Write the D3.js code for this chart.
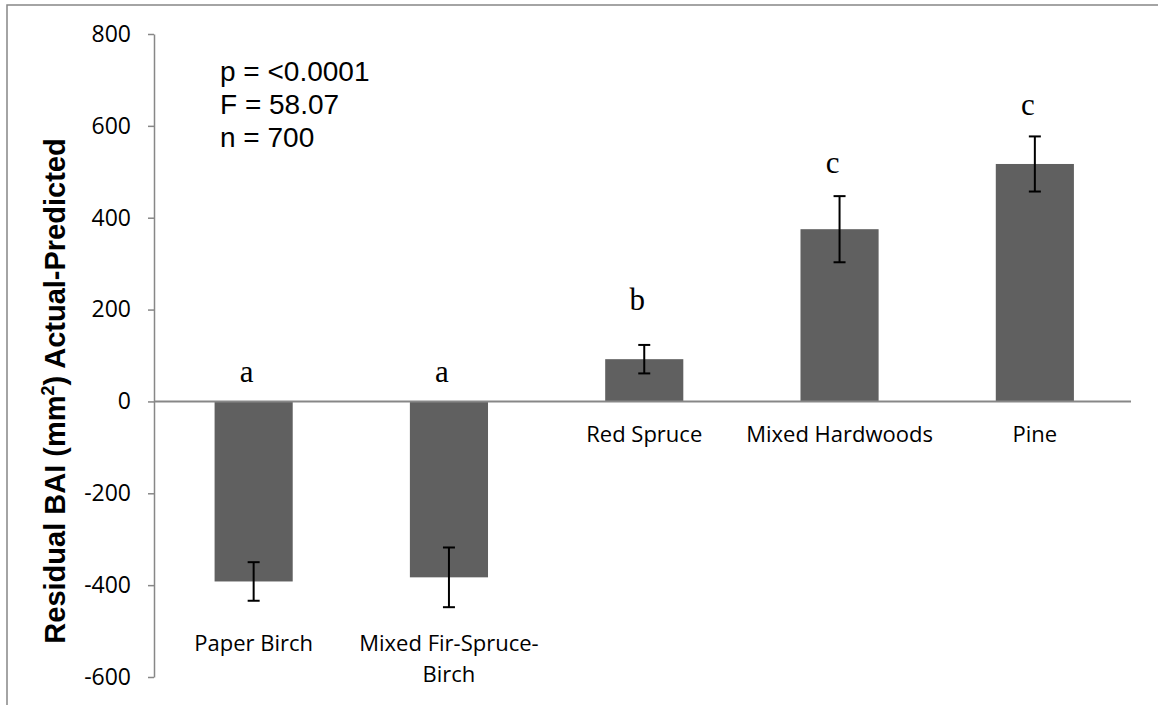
<!DOCTYPE html>
<html>
<head>
<meta charset="utf-8">
<script src="https://cdn.jsdelivr.net/npm/d3@7"></script>
<style>
  html, body { margin: 0; padding: 0; background: #fff; }
  svg { display: block; }
</style>
</head>
<body>
<script>
// ---- data ----
const categories = ["Paper Birch", "Mixed Fir-Spruce-Birch", "Red Spruce", "Mixed Hardwoods", "Pine"];
const values = [-392, -383, 92, 375, 517];
const errors = [42, 65, 31, 72, 60];
const groupLetters = ["a", "a", "b", "c", "c"];
const letterLevels = [43, 43, 200, 498, 624];
const yTicks = [-600, -400, -200, 0, 200, 400, 600, 800];
const statLines = ["p = <0.0001", "F = 58.07", "n = 700"];

// ---- layout ----
const W = 1158, H = 705;
const svg = d3.select("body").append("svg").attr("width", W).attr("height", H);

const x = d3.scaleBand().domain(categories).range([156, 1132.5]).paddingInner(0.6).paddingOuter(0.3);
const y = d3.scaleLinear().domain([-600, 800]).range([677, 34]);
const axisX = 154;
const axisColor = "#878787";
const labelFont = "'Open Sans', sans-serif";

// outer frame (top and left borders)
svg.append("path")
  .attr("d", `M7,${H} L7,5 L${W},5`)
  .attr("fill", "none").attr("stroke", axisColor).attr("stroke-width", 1.5);

// y axis
const yAxis = svg.append("g")
  .attr("transform", `translate(${axisX},0)`)
  .call(d3.axisLeft(y).tickValues(yTicks).tickSize(6).tickSizeOuter(0).tickPadding(17).tickFormat(d3.format("d")));
yAxis.select(".domain").attr("stroke", axisColor).attr("stroke-width", 1.5);
yAxis.selectAll(".tick line").attr("stroke", axisColor).attr("stroke-width", 1.5);
yAxis.selectAll(".tick text")
  .attr("font-family", labelFont).attr("font-size", 23).attr("fill", "#000")
  .text(d => d < 0 ? "-" + Math.abs(d) : d);

// bars
svg.append("g").selectAll("rect").data(categories).join("rect")
  .attr("x", d => x(d))
  .attr("width", x.bandwidth())
  .attr("y", (d, i) => y(Math.max(0, values[i])))
  .attr("height", (d, i) => Math.abs(y(values[i]) - y(0)))
  .attr("fill", "#606060");

// zero line (category axis)
svg.append("line")
  .attr("x1", axisX).attr("x2", 1131)
  .attr("y1", y(0)).attr("y2", y(0))
  .attr("stroke", axisColor).attr("stroke-width", 2);

// error bars
const eb = svg.append("g").attr("stroke", "#000").attr("stroke-width", 2);
categories.forEach((c, i) => {
  const cx = x(c) + x.bandwidth() / 2;
  const lo = y(values[i] - errors[i]), hi = y(values[i] + errors[i]);
  eb.append("line").attr("x1", cx).attr("x2", cx).attr("y1", lo).attr("y2", hi);
  eb.append("line").attr("x1", cx - 6).attr("x2", cx + 6).attr("y1", lo).attr("y2", lo);
  eb.append("line").attr("x1", cx - 6).attr("x2", cx + 6).attr("y1", hi).attr("y2", hi);
});

// category labels (wrap at hyphen when wider than the band step)
const labels = svg.append("g").attr("font-family", labelFont).attr("font-size", 22).attr("fill", "#000").attr("text-anchor", "middle");
categories.forEach((c, i) => {
  const cx = x(c) + x.bandwidth() / 2;
  const baseY = values[i] < 0 ? y(-600) - 26 : y(0) + 41;
  const t = labels.append("text").attr("x", cx).attr("y", baseY).text(c);
  if (t.node().getComputedTextLength() > x.step() - 10 && c.lastIndexOf("-") > 0) {
    const k = c.lastIndexOf("-") + 1;
    t.text(null);
    t.append("tspan").attr("x", cx).attr("y", baseY).text(c.slice(0, k));
    t.append("tspan").attr("x", cx).attr("y", baseY + 31).text(c.slice(k));
  }
});

// significance letters
svg.append("g").attr("font-family", "'Liberation Serif', 'Times New Roman', serif").attr("font-size", 31)
  .attr("text-anchor", "middle").attr("fill", "#000")
  .selectAll("text").data(categories).join("text")
  .attr("x", d => x(d) + x.bandwidth() / 2 - 7)
  .attr("y", (d, i) => y(letterLevels[i]))
  .text((d, i) => groupLetters[i]);

// statistics text
svg.append("g").attr("font-family", "'Liberation Sans', Arial, sans-serif").attr("font-size", 28).attr("fill", "#000")
  .selectAll("text").data(statLines).join("text")
  .attr("x", 220).attr("y", (d, i) => 81 + i * 33)
  .text(d => d);

// y axis title
const title = svg.append("text")
  .attr("transform", "translate(65,391) rotate(-90)")
  .attr("text-anchor", "middle")
  .attr("font-family", "'Liberation Sans', Arial, sans-serif")
  .attr("font-weight", "bold").attr("font-size", 29).attr("fill", "#000");
title.append("tspan").text("Residual BAI (mm");
title.append("tspan").attr("font-size", 18).attr("dy", -11).text("2");
title.append("tspan").attr("dy", 11).text(") Actual-Predicted");
</script>
</body>
</html>
